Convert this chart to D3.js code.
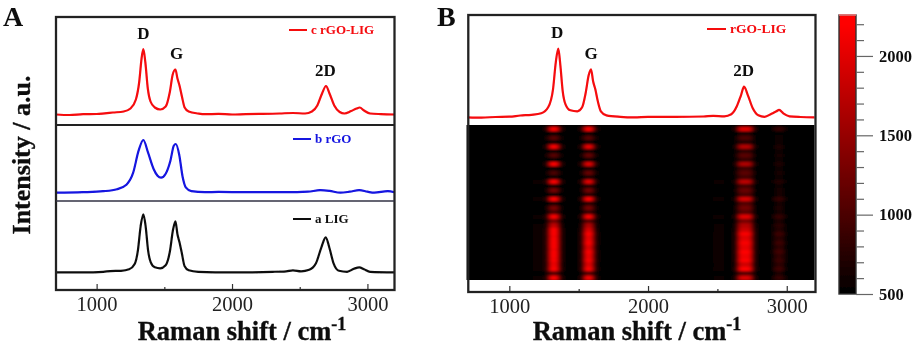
<!DOCTYPE html>
<html>
<head>
<meta charset="utf-8">
<script src="https://cdn.jsdelivr.net/npm/d3@7"></script>
<style>
html, body { margin: 0; padding: 0; background: white; }
svg { display: block; }
text { font-family: "Liberation Serif", serif; }
</style>
</head>
<body>
<div id="canvas"></div>
<script>
var w = 917;
var h = 348;

// [wavenumber, height above baseline]
var lig = [[700,0],[900,0],[1050,0.5],[1100,1.2],[1180,1.5],[1240,3],[1280,8],[1305,22],[1325,46],[1345,58],[1362,46],[1380,22],[1400,10],[1430,5],[1470,4],[1510,7],[1540,20],[1565,43],[1582,51],[1597,38],[1612,30],[1628,20],[1650,6],[1680,2],[1750,0.5],[2000,0],[2300,0.5],[2400,1],[2450,2],[2510,1],[2570,2.5],[2620,9],[2660,25],[2692,35],[2720,24],[2750,9],[2790,1.5],[2850,0.5],[2900,3.5],[2940,5],[2975,3],[3020,0.5],[3200,0]];
var rgo = [[700,0],[900,0.5],[1050,1.5],[1150,3.5],[1220,8],[1270,20],[1310,42],[1345,52.7],[1380,40],[1420,24],[1450,17],[1476,15],[1510,19],[1545,32],[1570,47],[1585,48.7],[1610,38],[1635,16],[1660,5],[1700,1.5],[1800,0.5],[1900,0.8],[2100,0.5],[2400,0.5],[2560,1],[2650,2.5],[2720,1.8],[2800,0],[2870,1],[2940,2.5],[3000,1],[3050,0],[3150,1.5],[3200,0.5]];
var rgoLig = [[700,0],[800,-0.5],[900,0.3],[1000,0.5],[1060,1.2],[1120,2],[1200,3],[1250,6],[1290,15],[1315,33],[1332,56],[1345,65.5],[1360,52],[1378,26],[1398,13],[1430,7],[1470,5],[1510,8],[1540,22],[1562,40],[1582,45],[1597,36],[1612,29],[1630,18],[1650,7],[1680,3],[1750,1],[1800,0.3],[1900,0.6],[2000,0],[2100,0.4],[2200,0.6],[2350,1],[2450,1.5],[2540,1],[2590,3],[2630,9],[2665,21],[2694,28.5],[2720,21],[2755,9],[2795,2.5],[2830,1],[2880,3.5],[2920,6],[2943,7],[2975,4],[3020,1],[3100,0.4],[3200,0]];
var rgoLigB = [[700,0],[800,-0.3],[900,0.3],[1000,0.6],[1080,1.8],[1160,2.5],[1230,4],[1280,10],[1315,28],[1335,55],[1353,68.6],[1368,52],[1385,26],[1405,13],[1440,7],[1490,6],[1525,10],[1550,24],[1572,42],[1589,48],[1604,36],[1620,28],[1638,16],[1660,6],[1700,2],[1800,0.5],[1900,0],[2000,0.4],[2200,0.4],[2400,0.8],[2470,1.5],[2550,1],[2600,3],[2640,11],[2670,22],[2692,30.6],[2720,22],[2755,9],[2795,2],[2840,0.5],[2890,3.5],[2925,6],[2945,7.4],[2975,4],[3020,1],[3100,0.3],[3200,0]];

var xTicks = [1000, 1500, 2000, 2500, 3000];
var xTickLabels = [1000, 2000, 3000];
var peakLabels = [["D", 1345], ["G", 1590], ["2D", 2690]];

// heat map samples from top to bottom, one list per band
var heatRowsD = [2300,550,1100,550,2200,550,1100,550,2200,550,1000,600,2200,650,1300,650,2300,700,1300,1000,2300,1300,1800,2200,2400,2300,2400,2250,2400,2300,2400,2100,2400,1100,2300];
var heatRowsG = [2200,600,1100,600,2100,650,1200,650,2000,700,1200,700,2050,750,1300,800,2250,800,1300,900,2200,1100,1700,1950,2250,2100,2300,2000,2250,2100,2300,2000,2250,1100,2150];
var heatRows2D = [2000,700,1000,750,1700,800,1100,850,1650,900,1100,950,1750,950,1200,1000,1900,1050,1250,1100,2000,1300,1700,1850,2150,2000,2150,2050,2300,2100,2200,1900,2300,1100,1950];
var heatRows3 = [850,540,580,550,700,560,620,570,700,580,620,590,740,600,660,620,850,640,680,660,850,690,780,740,900,780,900,800,950,820,900,800,930,700,850];
var heatGlow = [540,500,505,500,520,500,505,500,520,500,505,500,560,500,520,505,570,505,530,515,580,530,550,550,580,570,590,570,590,570,590,560,590,530,560];

var scaleTicks = [500, 1000, 1500, 2000];
var scaleMinor = [600,700,800,900,1100,1200,1300,1400,1600,1700,1800,1900,2100,2200];

var svg = d3.select("#canvas")
    .append("svg")
    .attr("width", w)
    .attr("height", h);

var defs = svg.append("defs");
defs.append("filter").attr("id", "soft")
    .attr("x", 0).attr("y", 0).attr("width", "100%").attr("height", "100%")
    .append("feGaussianBlur").attr("stdDeviation", 0.35);
defs.append("filter").attr("id", "heatBlur")
    .attr("x", "-5%").attr("y", "-5%").attr("width", "110%").attr("height", "110%")
    .append("feGaussianBlur").attr("stdDeviation", "2 0.9");
defs.append("clipPath").attr("id", "heatClip")
    .append("rect").attr("x", 466.5).attr("y", 125).attr("width", 348).attr("height", 155);

var root = svg.append("g").attr("filter", "url(#soft)");

var bold = function(sel, size) {
    return sel.attr("font-weight", "bold").attr("font-size", size + "px").attr("fill", "#111");
};

var lineFor = function(x, y) {
    return d3.line()
        .x(function(d) { return x(d[0]); })
        .y(function(d) { return y(d[1]); })
        .curve(d3.curveMonotoneX);
};

var drawAxis = function(x, frameTop, frameLeft, frameRight, frameBottom) {
    var axis = d3.axisBottom(x)
        .tickValues(xTicks)
        .tickSize(0)
        .tickFormat(function(d) { return xTickLabels.indexOf(d) >= 0 ? d : ""; });
    var g = root.append("g")
        .attr("transform", "translate(0," + frameBottom + ")")
        .call(axis);
    g.select(".domain").remove();
    g.selectAll(".tick line")
        .attr("y2", function(d) { return xTickLabels.indexOf(d) >= 0 ? -6 : -3; })
        .attr("stroke", "#333")
        .attr("stroke-width", 1.2);
    g.selectAll(".tick text")
        .attr("y", 6)
        .attr("dy", "0.71em")
        .attr("font-size", "20.5px")
        .attr("font-family", "Liberation Serif")
        .attr("fill", "#222");
    root.append("rect")
        .attr("x", frameLeft).attr("y", frameTop)
        .attr("width", frameRight - frameLeft).attr("height", frameBottom - frameTop)
        .attr("fill", "none").attr("stroke", "#222").attr("stroke-width", 2.3);
};

var drawLegend = function(x1, x2, y, label, color, size) {
    root.append("line")
        .attr("x1", x1).attr("x2", x2).attr("y1", y).attr("y2", y)
        .attr("stroke", color).attr("stroke-width", 2);
    root.append("text")
        .attr("x", x2 + 4).attr("y", y + 4)
        .attr("font-weight", "bold").attr("font-size", size + "px")
        .attr("fill", color)
        .text(label);
};

var drawPeakLabels = function(x, ys) {
    peakLabels.forEach(function(p, i) {
        bold(root.append("text"), 17)
            .attr("x", x(p[1]))
            .attr("y", ys[i])
            .attr("text-anchor", "middle")
            .text(p[0]);
    });
};

var ramanLabel = function(cx) {
    var t = bold(root.append("text"), 26.5)
        .attr("x", cx).attr("y", 340)
        .attr("text-anchor", "middle")
        .attr("stroke", "#111").attr("stroke-width", 0.35);
    t.append("tspan").text("Raman shift / cm");
    t.append("tspan").attr("dy", -10).attr("font-size", "18px").text("-1");
};

// ---- panel A ----
var xA = d3.scaleLinear().domain([700, 3200]).range([56, 394.5]);

var stackA = [
    { data: rgoLig, color: "#f5080c", base: 114.5 },
    { data: rgo, color: "#1212e0", base: 192.7 },
    { data: lig, color: "#111111", base: 272.3 }
];

stackA.forEach(function(s) {
    var y = d3.scaleLinear().domain([0, 100]).range([s.base, s.base - 100]);
    root.append("path")
        .attr("d", lineFor(xA, y)(s.data))
        .attr("fill", "none")
        .attr("stroke", s.color)
        .attr("stroke-width", 2.2);
});

drawAxis(xA, 17, 56, 394.5, 290);
root.append("line").attr("x1", 56).attr("x2", 394.5).attr("y1", 125).attr("y2", 125)
    .attr("stroke", "#222").attr("stroke-width", 2.2);
root.append("line").attr("x1", 56).attr("x2", 394.5).attr("y1", 201).attr("y2", 201)
    .attr("stroke", "#334").attr("stroke-width", 1.6);

drawLegend(289, 307, 30, "c rGO-LIG", "#f5080c", 13);
drawLegend(293, 311, 139, "b rGO", "#1212e0", 13);
drawLegend(293, 311, 219, "a  LIG", "#111111", 13);
drawPeakLabels(xA, [39, 59, 76]);

bold(root.append("text"), 28).attr("x", 3).attr("y", 26).text("A");
bold(root.append("text"), 26)
    .attr("transform", "translate(30,155) rotate(-90)")
    .attr("text-anchor", "middle")
    .attr("stroke", "#111").attr("stroke-width", 0.35)
    .text("Intensity / a.u.");
ramanLabel(242);

// ---- panel B ----
var xB = d3.scaleLinear().domain([700, 3200]).range([467.7, 814.5]);
var yB = d3.scaleLinear().domain([0, 100]).range([117.3, 17.3]);

var heatY = d3.scaleBand().domain(d3.range(heatRowsD.length)).range([127, 280]);
var color = d3.scaleLinear().domain([500, 2200]).range(["#000000", "#ff0000"]).clamp(true);

var heatBands = [
    { rows: heatGlow, from: 1170, to: 1270, halo: 0 },
    { rows: heatGlow, from: 2470, to: 2550, halo: 0 },
    { rows: heatRowsD, from: 1292, to: 1350, halo: 35 },
    { rows: heatRowsG, from: 1545, to: 1600, halo: 35 },
    { rows: heatRows2D, from: 2655, to: 2745, halo: 35 },
    { rows: heatRows3, from: 2915, to: 2975, halo: 25 }
];

var heat = root.append("g").attr("clip-path", "url(#heatClip)").append("g").attr("filter", "url(#heatBlur)");
heat.append("rect").attr("x", 440).attr("y", 100).attr("width", 400).attr("height", 200).attr("fill", "#000");
heatBands.forEach(function(b) {
    if (b.halo > 0) {
        heat.selectAll(null)
            .data(b.rows)
            .join("rect")
            .attr("x", xB(b.from - b.halo))
            .attr("width", xB(b.to + b.halo) - xB(b.from - b.halo))
            .attr("y", function(d, i) { return heatY(i); })
            .attr("height", heatY.bandwidth() + 0.3)
            .attr("fill", function(d) { return color(500 + (d - 500) * 0.2); });
    }
    heat.selectAll(null)
        .data(b.rows)
        .join("rect")
        .attr("x", xB(b.from))
        .attr("width", xB(b.to) - xB(b.from))
        .attr("y", function(d, i) { return heatY(i); })
        .attr("height", heatY.bandwidth() + 0.3)
        .attr("fill", function(d) { return color(d); });
});

root.append("path")
    .attr("d", lineFor(xB, yB)(rgoLigB))
    .attr("fill", "none")
    .attr("stroke", "#f5080c")
    .attr("stroke-width", 2.2);

drawAxis(xB, 15, 468.3, 815.5, 292);
drawLegend(707, 726, 29, "rGO-LIG", "#f5080c", 13.5);
drawPeakLabels(xB, [38, 59, 76]);

bold(root.append("text"), 28).attr("x", 437).attr("y", 26).text("B");
ramanLabel(637);

// ---- colour scale ----
var yScaleBar = d3.scaleLinear().domain([500, 2258]).range([294, 15]);
var gradient = defs.append("linearGradient").attr("id", "barFill")
    .attr("x1", 0).attr("x2", 0).attr("y1", 1).attr("y2", 0);
gradient.selectAll("stop")
    .data([500, 2200, 2258])
    .join("stop")
    .attr("offset", function(d) { return (d - 500) / (2258 - 500); })
    .attr("stop-color", function(d) { return color(d); });
root.append("rect")
    .attr("x", 839).attr("y", yScaleBar(2258))
    .attr("width", 17).attr("height", yScaleBar(500) - yScaleBar(2258))
    .attr("fill", "url(#barFill)")
    .attr("stroke", "#333").attr("stroke-width", 1.4);
root.append("line").attr("x1", 839).attr("x2", 856).attr("y1", 15).attr("y2", 15)
    .attr("stroke", "#f77").attr("stroke-width", 1.5);

var barMinor = root.append("g")
    .attr("transform", "translate(856,0)")
    .call(d3.axisRight(yScaleBar).tickValues(scaleMinor).tickSize(8).tickFormat(""));
barMinor.select(".domain").remove();
barMinor.selectAll(".tick line").attr("stroke", "#666").attr("stroke-width", 1.2);

var barAxis = root.append("g")
    .attr("transform", "translate(856,0)")
    .call(d3.axisRight(yScaleBar).tickValues(scaleTicks).tickSize(17).tickPadding(6).tickFormat(d3.format("d")));
barAxis.select(".domain").remove();
barAxis.selectAll(".tick line").attr("stroke", "#666").attr("stroke-width", 1.2);
barAxis.selectAll(".tick text")
    .attr("font-family", "Liberation Serif")
    .attr("font-weight", "bold")
    .attr("font-size", "16.5px")
    .attr("fill", "#111");
</script>
</body>
</html>
